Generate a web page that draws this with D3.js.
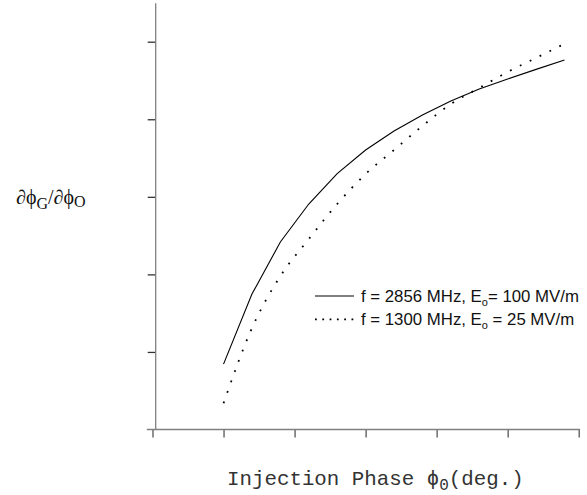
<!DOCTYPE html>
<html>
<head>
<meta charset="utf-8">
<script src="https://cdn.jsdelivr.net/npm/d3@7"></script>
<style>
  html, body { margin: 0; padding: 0; background: #fff; }
  svg { display: block; }
</style>
</head>
<body>
<svg id="chart" width="587" height="495"></svg>
<script>
// ---- data (injection phase in deg, arbitrary units for derivative) ----
const phase = [10, 14, 18, 22, 26, 30, 34, 38, 42, 46, 50, 54, 58];
const solid2856 = [0.843, 1.746, 2.417, 2.907, 3.299, 3.604, 3.849, 4.055, 4.236, 4.390, 4.519, 4.643, 4.765];
const dotted1300 = [0.339, 1.307, 1.978, 2.455, 2.907, 3.294, 3.604, 3.914, 4.197, 4.404, 4.610, 4.791, 4.972];
const xTicks = [0, 10, 20, 30, 40, 50, 60];
const yTicks = [1, 2, 3, 4, 5];
const legendLabels = [
  {pre: "f = 2856 MHz, E", sub: "o", post: "= 100 MV/m", dash: null},
  {pre: "f = 1300 MHz, E", sub: "o", post: " = 25 MV/m", dash: "1.8,5.5"}
];

const svg = d3.select("#chart");
const x = d3.scaleLinear().domain([0, 60]).range([152.5, 578.7]);
const y = d3.scaleLinear().domain([0, 5]).range([429.5, 41.7]);

const axisColor = "#808080";
const tickColor = "#555";

// x axis
const gx = svg.append("g").attr("transform", `translate(0,${y(0)})`)
  .call(d3.axisBottom(x).tickValues(xTicks).tickSize(8).tickFormat(""));
gx.select(".domain").remove();
gx.selectAll(".tick line").attr("stroke", tickColor).attr("stroke-width", 1.3);
svg.append("line")
  .attr("x1", x(-0.8)).attr("x2", x(60.2))
  .attr("y1", y(0)).attr("y2", y(0))
  .attr("stroke", axisColor).attr("stroke-width", 1.3);

// y axis
const yAxisX = x(0.45);
const gy = svg.append("g").attr("transform", `translate(${yAxisX},0)`)
  .call(d3.axisLeft(y).tickValues(yTicks).tickSize(8).tickFormat(""));
gy.select(".domain").remove();
gy.selectAll(".tick line").attr("stroke", "#333").attr("stroke-width", 1.3);
svg.append("line")
  .attr("x1", yAxisX).attr("x2", yAxisX)
  .attr("y1", y(5.495)).attr("y2", y(0))
  .attr("stroke", axisColor).attr("stroke-width", 1.3);

// curves
const line = d3.line().x(d => x(d[0])).y(d => y(d[1]));
svg.append("path")
  .datum(phase.map((p, i) => [p, solid2856[i]]))
  .attr("d", line).attr("fill", "none")
  .attr("stroke", "#000").attr("stroke-width", 1.1);
svg.append("path")
  .datum(phase.map((p, i) => [p, dotted1300[i]]))
  .attr("d", d3.line().curve(d3.curveMonotoneX).x(d => x(d[0])).y(d => y(d[1])))
  .attr("fill", "none")
  .attr("stroke", "#000").attr("stroke-width", 1.8)
  .attr("stroke-dasharray", "1.8,9.2");

// legend
const lg = svg.append("g");
legendLabels.forEach((l, i) => {
  const ly = 296 + i * 23.3;
  lg.append("line").attr("x1", 315).attr("x2", 354).attr("y1", ly).attr("y2", ly)
    .attr("stroke", "#000").attr("stroke-width", l.dash ? 1.8 : 1.1)
    .attr("stroke-dasharray", l.dash);
  const t = lg.append("text").attr("x", 361).attr("y", ly + 6)
    .attr("font-family", "Liberation Sans, Arial, sans-serif")
    .attr("font-size", 16.8).attr("fill", "#111");
  t.append("tspan").text(l.pre);
  t.append("tspan").attr("font-size", 11).attr("dy", 4).text(l.sub);
  t.append("tspan").attr("dy", -4).text(l.post);
});

// y label
const yl = svg.append("text").attr("x", 16).attr("y", 204)
  .attr("font-family", "Liberation Serif, Times New Roman, serif")
  .attr("font-size", 20).attr("fill", "#111");
yl.append("tspan").text("∂ϕ");
yl.append("tspan").attr("dy", 5).attr("font-size", 16).text("G");
yl.append("tspan").attr("dy", -5).text("/∂ϕ");
yl.append("tspan").attr("dy", 3).attr("font-size", 16).text("O");

// x label
const xl = svg.append("text").attr("x", 227).attr("y", 485)
  .attr("font-family", "Liberation Mono, Courier New, monospace")
  .attr("font-size", 20.8).attr("fill", "#333");
xl.append("tspan").text("Injection Phase ϕ");
xl.append("tspan").attr("dy", 5).attr("font-size", 16).text("0");
xl.append("tspan").attr("dy", -5).text("(deg.)");
</script>
</body>
</html>
